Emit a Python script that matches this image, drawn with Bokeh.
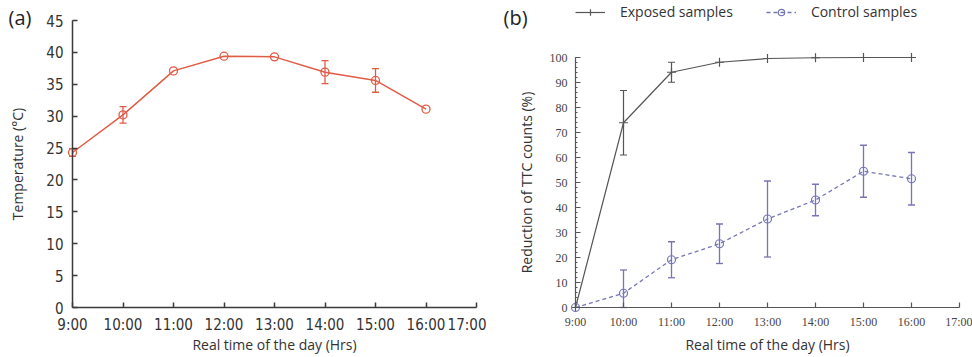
from bokeh.plotting import figure
from bokeh.models import (ColumnDataSource, Whisker, TeeHead, FixedTicker,
                          SingleIntervalTicker, Range1d, Label, Legend, LegendItem)
from bokeh.layouts import row
from bokeh.embed import file_html
from bokeh.resources import INLINE

# ---------------- data ----------------
hours = [9, 10, 11, 12, 13, 14, 15, 16]
tick_hours = [9, 10, 11, 12, 13, 14, 15, 16, 17]
tick_labels = ["9:00", "10:00", "11:00", "12:00", "13:00", "14:00", "15:00", "16:00", "17:00"]

temp = [24.3, 30.2, 37.1, 39.4, 39.3, 36.9, 35.6, 31.1]
temp_err = [0.6, 1.3, 0.0, 0.0, 0.0, 1.8, 1.85, 0.0]

exposed = [0.0, 73.9, 94.1, 98.1, 99.6, 99.9, 100.0, 100.0]
exposed_err = [0.0, 12.9, 4.0, 0.0, 0.0, 0.0, 0.0, 0.0]

control = [0.0, 5.7, 19.1, 25.5, 35.4, 43.0, 54.5, 51.5]
control_err = [0.0, 9.3, 7.2, 7.9, 15.2, 6.3, 10.4, 10.5]

TICK_FONT_A = "'Liberation Sans Narrow', 'DejaVu Sans Condensed', sans-serif"
TICK_FONT_B = "'Liberation Serif', serif"
LABEL_FONT = "Open Sans"

FIG_H = 357
FIG_W = 486


def span_range(v0, v1, px0, px1, size, invert=False):
    """Range so that value v0 sits at pixel px0 and v1 at px1 (pixels from left / top)."""
    if invert:  # vertical: pixels measured from the top
        px0, px1 = size - px0, size - px1
    k = (v1 - v0) / (px1 - px0)
    return Range1d(v0 - px0 * k, v0 + (size - px0) * k)


def err_source(xs, ys, es):
    xx, up, lo = [], [], []
    for x, y, e in zip(xs, ys, es):
        if e > 0:
            xx.append(x)
            up.append(y + e)
            lo.append(max(y - e, 0))
    return ColumnDataSource(dict(x=xx, upper=up, lower=lo))


def make_fig(xr, yr):
    p = figure(width=FIG_W, height=FIG_H, x_range=xr, y_range=yr,
               output_backend="svg", toolbar_location=None,
               min_border_left=0, min_border_right=0, min_border_top=0, min_border_bottom=0)
    p.xgrid.grid_line_color = None
    p.ygrid.grid_line_color = None
    p.outline_line_color = None
    p.background_fill_color = "white"
    p.border_fill_color = "white"
    return p


def style_axes(p, tick_font, tick_size, tick_color, line_color, line_width, ybounds):
    for ax in (p.xaxis[0], p.yaxis[0]):
        ax.axis_line_color = line_color
        ax.axis_line_width = line_width
        ax.major_tick_line_color = line_color
        ax.major_tick_line_width = line_width
        ax.minor_tick_line_color = line_color
        ax.major_tick_in = 5
        ax.major_tick_out = 0
        ax.major_label_text_font = tick_font
        ax.major_label_text_font_size = tick_size
        ax.major_label_text_color = tick_color
        ax.axis_label_text_font = LABEL_FONT
        ax.axis_label_text_font_size = "14px"
        ax.axis_label_text_font_style = "normal"
        ax.axis_label_text_color = "#333333"
    p.xaxis.fixed_location = 0
    p.yaxis.fixed_location = 9
    p.xaxis.bounds = (9, 17)
    p.yaxis.bounds = ybounds
    p.xaxis.ticker = FixedTicker(ticks=tick_hours)
    p.xaxis.major_label_overrides = {h: l for h, l in zip(tick_hours, tick_labels)}
    p.xaxis.minor_tick_line_color = None


# ---------------- panel (a) ----------------
red = "#e15c45"
pa = make_fig(span_range(9, 17, 72, 476, FIG_W), span_range(0, 45, 307, 20, FIG_H, invert=True))
style_axes(pa, TICK_FONT_A, "15px", "#333333", "#3a3a3a", 1.5, (0, 45))
pa.yaxis.ticker = FixedTicker(ticks=list(range(0, 46, 5)))
pa.yaxis.minor_tick_line_color = None
pa.yaxis.major_label_standoff = 9
pa.xaxis.major_label_standoff = 8
pa.xaxis.axis_label_standoff = -2
pa.yaxis.axis_label_standoff = 16
pa.xaxis.axis_label = "Real time of the day (Hrs)"
pa.yaxis.axis_label = "Temperature (°C)"

pa.line(hours, temp, line_color=red, line_width=1.5)
pa.add_layout(Whisker(source=err_source(hours, temp, temp_err), base="x", upper="upper", lower="lower",
                      line_color=red, line_width=1.3,
                      upper_head=TeeHead(size=7, line_color=red, line_width=1.3),
                      lower_head=TeeHead(size=7, line_color=red, line_width=1.3)))
pa.scatter(hours, temp, marker="circle", size=8, line_color=red, fill_color=None, line_width=1.3)
pa.add_layout(Label(x=8, y=FIG_H - 3, x_units="screen", y_units="screen", text="(a)",
                    text_font=LABEL_FONT, text_font_size="20px", text_color="#222222",
                    text_baseline="top"))

# ---------------- panel (b) ----------------
gray = "#555555"
blue = "#7676b6"
pb = make_fig(span_range(9, 17, 575 - FIG_W, 959 - FIG_W, FIG_W),
              span_range(0, 100, 307, 57, FIG_H, invert=True))
style_axes(pb, TICK_FONT_B, "12px", "#444444", "#555555", 1.2, (0, 100))
pb.yaxis.ticker = SingleIntervalTicker(interval=10, num_minor_ticks=5)
pb.yaxis.minor_tick_in = 2
pb.yaxis.minor_tick_out = 0
pb.yaxis.major_label_standoff = 8
pb.xaxis.major_label_standoff = 7
pb.xaxis.axis_label_standoff = 3
pb.yaxis.axis_label_standoff = 11
pb.xaxis.axis_label = "Real time of the day (Hrs)"
pb.yaxis.axis_label = "Reduction of TTC counts (%)"

l_exp = pb.line(hours, exposed, line_color=gray, line_width=1.2)
pb.add_layout(Whisker(source=err_source(hours, exposed, exposed_err), base="x", upper="upper", lower="lower",
                      line_color=gray, line_width=1.2,
                      upper_head=TeeHead(size=7, line_color=gray, line_width=1.2),
                      lower_head=TeeHead(size=7, line_color=gray, line_width=1.2)))
m_exp = pb.scatter(hours, exposed, marker="cross", size=9, line_color=gray, line_width=1.2)

l_ctl = pb.line(hours, control, line_color=blue, line_width=1.3, line_dash="4 3")
pb.add_layout(Whisker(source=err_source(hours, control, control_err), base="x", upper="upper", lower="lower",
                      line_color=blue, line_width=1.3,
                      upper_head=TeeHead(size=7, line_color=blue, line_width=1.3),
                      lower_head=TeeHead(size=7, line_color=blue, line_width=1.3)))
m_ctl = pb.scatter(hours, control, marker="circle", size=8, line_color=blue, fill_color=None, line_width=1.2)

legend = Legend(items=[LegendItem(label="Exposed samples", renderers=[l_exp, m_exp]),
                       LegendItem(label="Control samples", renderers=[l_ctl, m_ctl])],
                orientation="horizontal", location=(575 - FIG_W, FIG_H - 21),
                glyph_width=30, glyph_height=16, label_height=16, label_standoff=15, spacing=33,
                padding=0, margin=0, border_line_color=None, background_fill_alpha=0,
                label_text_font=LABEL_FONT, label_text_font_size="14px", label_text_color="#333333")
pb.add_layout(legend)
pb.add_layout(Label(x=503 - FIG_W, y=FIG_H - 3, x_units="screen", y_units="screen", text="(b)",
                    text_font=LABEL_FONT, text_font_size="20px", text_color="#222222",
                    text_baseline="top"))

layout = row(pa, pb)
open("out.html", "w").write(file_html(layout, INLINE))
